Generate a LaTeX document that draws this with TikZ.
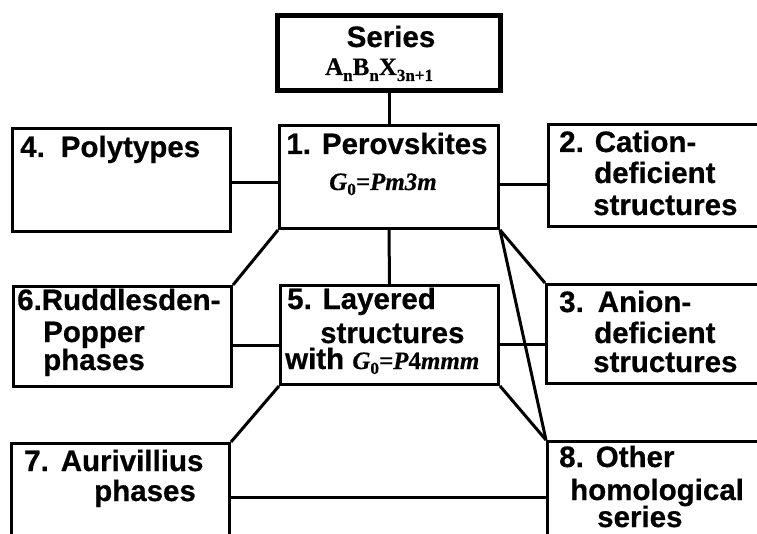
\documentclass[tikz,border=0pt]{standalone}
\usepackage{fontspec}
\setmainfont{Liberation Sans}[BoldFeatures={FakeBold=0.6}]
\newfontfamily\tnr{Liberation Serif}[BoldFeatures={FakeBold=0.4},BoldItalicFeatures={FakeBold=0.4}]
% italic space-group symbol with a subscript zero
\newcommand{\gzero}{{\tnr\bfseries\itshape G\raisebox{-5pt}{\fontsize{17}{17}\selectfont\upshape 0}=}}
\newcommand{\lowsub}[1]{\raisebox{-6pt}{\fontsize{17}{17}\selectfont #1}}
\begin{document}
\begin{tikzpicture}[x=1pt,y=-1pt,
  box/.style={draw, line width=3pt, rectangle, inner sep=0pt, anchor=north west, fill=white},
  lbl/.style={anchor=base west, inner sep=0pt, font=\bfseries\fontsize{29.5}{29.5}\selectfont},
  sym/.style={anchor=base, inner sep=0pt, font=\tnr\bfseries\fontsize{25}{25}\selectfont},
  wire/.style={line width=3pt}]
\useasboundingbox (0,0) rectangle (757,534);
\clip (0,0) rectangle (757,534);

% heights of the horizontal links
\coordinate (y183) at (0,183);
\coordinate (y185) at (0,185);
\coordinate (y345) at (0,345);
\coordinate (y344) at (0,344);
\coordinate (y497) at (0,497);

% boxes
\node[box, line width=5pt, minimum width=223pt, minimum height=75pt] (series) at (275,13) {};
\node[box, minimum width=219pt, minimum height=103pt] (perov) at (278,124) {};
\node[box, minimum width=218pt, minimum height=103pt] (poly) at (11,127) {};
\node[box, minimum width=250pt, minimum height=102pt] (cation) at (547,123) {};
\node[box, minimum width=250pt, minimum height=99pt] (anion) at (545,283) {};
\node[box, minimum width=218pt, minimum height=99pt] (layer) at (279,284) {};
\node[box, minimum width=218pt, minimum height=100pt] (rudd) at (12,285) {};
\node[box, minimum width=218pt, minimum height=120pt] (auri) at (10,442) {};
\node[box, minimum width=250pt, minimum height=120pt] (other) at (546,440) {};

% links
\begin{scope}[wire]
  \draw (series.south) -- (perov.north);
  \draw (poly.east |- y183) -- (perov.west |- y183);
  \draw (perov.east |- y185) -- (cation.west |- y185);
  \draw (perov.south) -- (layer.north);
  \draw (rudd.north east) -- (perov.south west);
  \draw (rudd.east |- y345) -- (layer.west |- y345);
  \draw (layer.east |- y344) -- (anion.west |- y344);
  \draw (perov.south east) -- (anion.north west);
  \draw (perov.south east) -- (other.north west);
  \draw (layer.south east) -- (other.north west);
  \draw (auri.north east) -- (layer.south west);
  \draw (auri.east |- y497) -- (other.west |- y497);
\end{scope}

% texts
\node[lbl, anchor=base] (tser) at (391,47) {Series};
\node[sym, anchor=base west] (tform) at (325,75) {A\lowsub{n}B\lowsub{n}X\lowsub{3n+1}};

\node[lbl, anchor=base] (t1) at (387,154) {1. Perovskites};
\node[sym, font=\tnr\bfseries\itshape\fontsize{25}{25}\selectfont] (t1g) at (383,190) {\gzero Pm3m};

\node[lbl] (t4) at (20,157) {4.\hspace{16pt}Polytypes};

\node[lbl] (t2a) at (559,152) {2. Cation-};
\node[lbl] (t2b) at (594,183) {deficient};
\node[lbl] (t2c) at (593,215) {structures};

\node[lbl] (t3a) at (559,312) {3.\hspace{14pt}Anion-};
\node[lbl] (t3b) at (594,343) {deficient};
\node[lbl] (t3c) at (593,372) {structures};

\node[lbl] (t5a) at (287,309) {5. Layered};
\node[lbl] (t5b) at (320,343) {structures};
\node[lbl] (t5c) at (285,369) {with {\tnr\bfseries\itshape\fontsize{25}{25}\selectfont\gzero P{\upshape 4}mmm}};

\node[lbl] (t6a) at (17,310) {6.Ruddlesden-};
\node[lbl] (t6b) at (43,342) {Popper};
\node[lbl] (t6c) at (43,370) {phases};

\node[lbl] (t7a) at (24,471) {7.\hspace{12pt}Aurivillius};
\node[lbl] (t7b) at (94,501) {phases};

\node[lbl] (t8a) at (559,467) {8.\hspace{12pt}Other};
\node[lbl] (t8b) at (570,500) {homological};
\node[lbl] (t8c) at (597,527) {series};
\end{tikzpicture}
\end{document}
